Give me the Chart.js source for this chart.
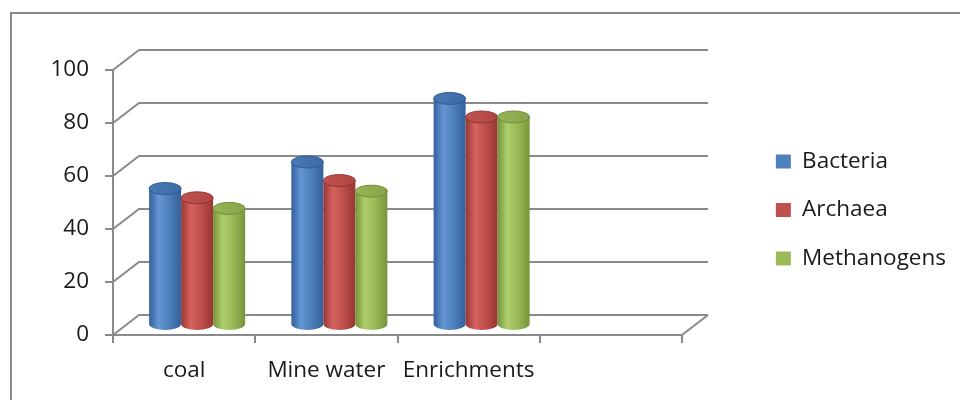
<!DOCTYPE html>
<html>
<head>
<meta charset="utf-8">
<script src="https://cdn.jsdelivr.net/npm/chart.js@4/dist/chart.umd.min.js"></script>
<style>
  html, body { margin: 0; padding: 0; background: #ffffff; }
  #wrap { width: 960px; height: 400px; position: relative; }
</style>
</head>
<body>
<div id="wrap"><canvas id="c" width="960" height="400"></canvas></div>
<script>
// Sample groups (the last slot is an empty category on the axis)
const categories = ['coal', 'Mine water', 'Enrichments', ''];
// Percentages per group
const bacteria    = [51.5, 61.5, 85.5, null];
const archaea     = [48,   54.5, 78.5, null];
const methanogens = [44,   50.5, 78.5, null];
// Value axis ticks
const yTicks = [0, 20, 40, 60, 80, 100];

const TEXT = '#1a1a1a';
const LINE = '#8a8a8a';
const FONT = { family: "'Open Sans', sans-serif", size: 22.5 };

// Depth of the 3-D box (back wall offset) in pixels
const DEPTH = { dx: 26, dy: -20 };

// Cylinder shading per series
const SHADES = [
  { base: '#4f81bd', light: '#6496d6', dark: '#32609a', capA: '#4a7ab6', capB: '#3b6aa5', rim: '#2f5b91' },
  { base: '#c0504d', light: '#d6625f', dark: '#983633', capA: '#c25350', capB: '#ad4542', rim: '#923431' },
  { base: '#9bbb59', light: '#aecd6c', dark: '#76953c', capA: '#98b656', capB: '#86a347', rim: '#718d38' }
];

function drawCylinder(ctx, cx, top, bottom, w, s) {
  const rx = w / 2, ry = 6;
  const l = cx - rx, r = cx + rx;
  const g = ctx.createLinearGradient(l, 0, r, 0);
  g.addColorStop(0, s.dark);
  g.addColorStop(0.3, s.light);
  g.addColorStop(0.6, s.base);
  g.addColorStop(1, s.dark);
  ctx.beginPath();
  ctx.moveTo(l, top);
  ctx.lineTo(l, bottom);
  ctx.ellipse(cx, bottom, rx, ry, 0, Math.PI, 0, true);
  ctx.lineTo(r, top);
  ctx.closePath();
  ctx.fillStyle = g;
  ctx.fill();

  const cg = ctx.createLinearGradient(l, top - ry, r, top + ry);
  cg.addColorStop(0, s.capA);
  cg.addColorStop(1, s.capB);
  ctx.beginPath();
  ctx.ellipse(cx, top, rx, ry, 0, 0, Math.PI * 2);
  ctx.fillStyle = cg;
  ctx.fill();
  ctx.lineWidth = 1;
  ctx.strokeStyle = s.rim;
  ctx.stroke();
}

const box3d = {
  id: 'box3d',
  afterLayout(chart) {
    // keep the legend near the right edge, leaving room for the box depth
    const lg = chart.legend;
    if (!lg) return;
    const shift = chart.width - 4 - (lg.left + lg.width);
    lg.left += shift;
    lg.right = lg.left + lg.width;
  },
  beforeDraw(chart) {
    // outer frame
    const ctx = chart.ctx;
    ctx.save();
    ctx.strokeStyle = LINE;
    ctx.lineWidth = 2;
    ctx.strokeRect(11, 13, 2000, 2000);
    ctx.restore();
  },
  beforeDatasetsDraw(chart) {
    const { ctx, chartArea: a, scales: { y } } = chart;
    ctx.save();
    ctx.strokeStyle = LINE;
    ctx.lineWidth = 2;
    // side wall diagonals and back wall grid lines
    y.ticks.forEach(t => {
      const py = y.getPixelForValue(t.value);
      ctx.beginPath();
      ctx.moveTo(a.left, py);
      ctx.lineTo(a.left + DEPTH.dx, py + DEPTH.dy);
      ctx.lineTo(a.right + DEPTH.dx, py + DEPTH.dy);
      ctx.stroke();
    });
    // right edge of the floor
    ctx.beginPath();
    ctx.moveTo(a.right, a.bottom);
    ctx.lineTo(a.right + DEPTH.dx, a.bottom + DEPTH.dy);
    ctx.stroke();
    ctx.restore();
  },
  beforeDatasetDraw() {
    // flat bars are replaced by cylinders
    return false;
  },
  afterDatasetsDraw(chart) {
    const ctx = chart.ctx;
    ctx.save();
    chart.data.datasets.forEach((ds, i) => {
      const meta = chart.getDatasetMeta(i);
      meta.data.forEach((bar, j) => {
        if (ds.data[j] == null) return;
        const p = bar.getProps(['x', 'y', 'base', 'width'], true);
        drawCylinder(ctx, p.x + DEPTH.dx / 2, p.y + DEPTH.dy / 2, p.base + DEPTH.dy / 2, p.width, SHADES[i]);
      });
    });
    ctx.restore();
  }
};

new Chart(document.getElementById('c'), {
  type: 'bar',
  data: {
    labels: categories,
    datasets: [
      { label: 'Bacteria', data: bacteria, backgroundColor: '#4f81bd' },
      { label: 'Archaea', data: archaea, backgroundColor: '#c0504d' },
      { label: 'Methanogens', data: methanogens, backgroundColor: '#9bbb59' }
    ]
  },
  options: {
    responsive: false,
    animation: false,
    events: [],
    barPercentage: 1,
    categoryPercentage: 0.675,
    layout: { padding: { top: 20, right: 0, bottom: 0, left: 0 } },
    plugins: {
      legend: {
        position: 'right',
        labels: { boxWidth: 15, boxHeight: 14, padding: 26, color: TEXT, font: FONT }
      },
      tooltip: { enabled: false }
    },
    scales: {
      x: {
        offset: true,
        grid: { display: true, offset: true, drawOnChartArea: false, drawTicks: true, tickLength: 8, color: LINE, lineWidth: 2 },
        border: { display: true, color: LINE, width: 2 },
        ticks: { padding: 14, color: TEXT, font: FONT, maxRotation: 0, autoSkip: false },
        // plot ends at 682px; the rest is box depth and legend
        afterFit(s) { s.height = 65; s.paddingLeft = 0; s.paddingRight = 278; }
      },
      y: {
        min: 0,
        max: 100,
        afterBuildTicks(s) { s.ticks = yTicks.map(v => ({ value: v })); },
        grid: { display: true, drawOnChartArea: false, drawTicks: true, tickLength: 8, color: LINE, lineWidth: 2 },
        border: { display: true, color: LINE, width: 2 },
        ticks: { padding: 16, color: TEXT, font: FONT },
        afterFit(s) { s.width = 113; s.paddingTop = 70; s.paddingBottom = 0; }
      }
    }
  },
  plugins: [box3d]
});
</script>
</body>
</html>
